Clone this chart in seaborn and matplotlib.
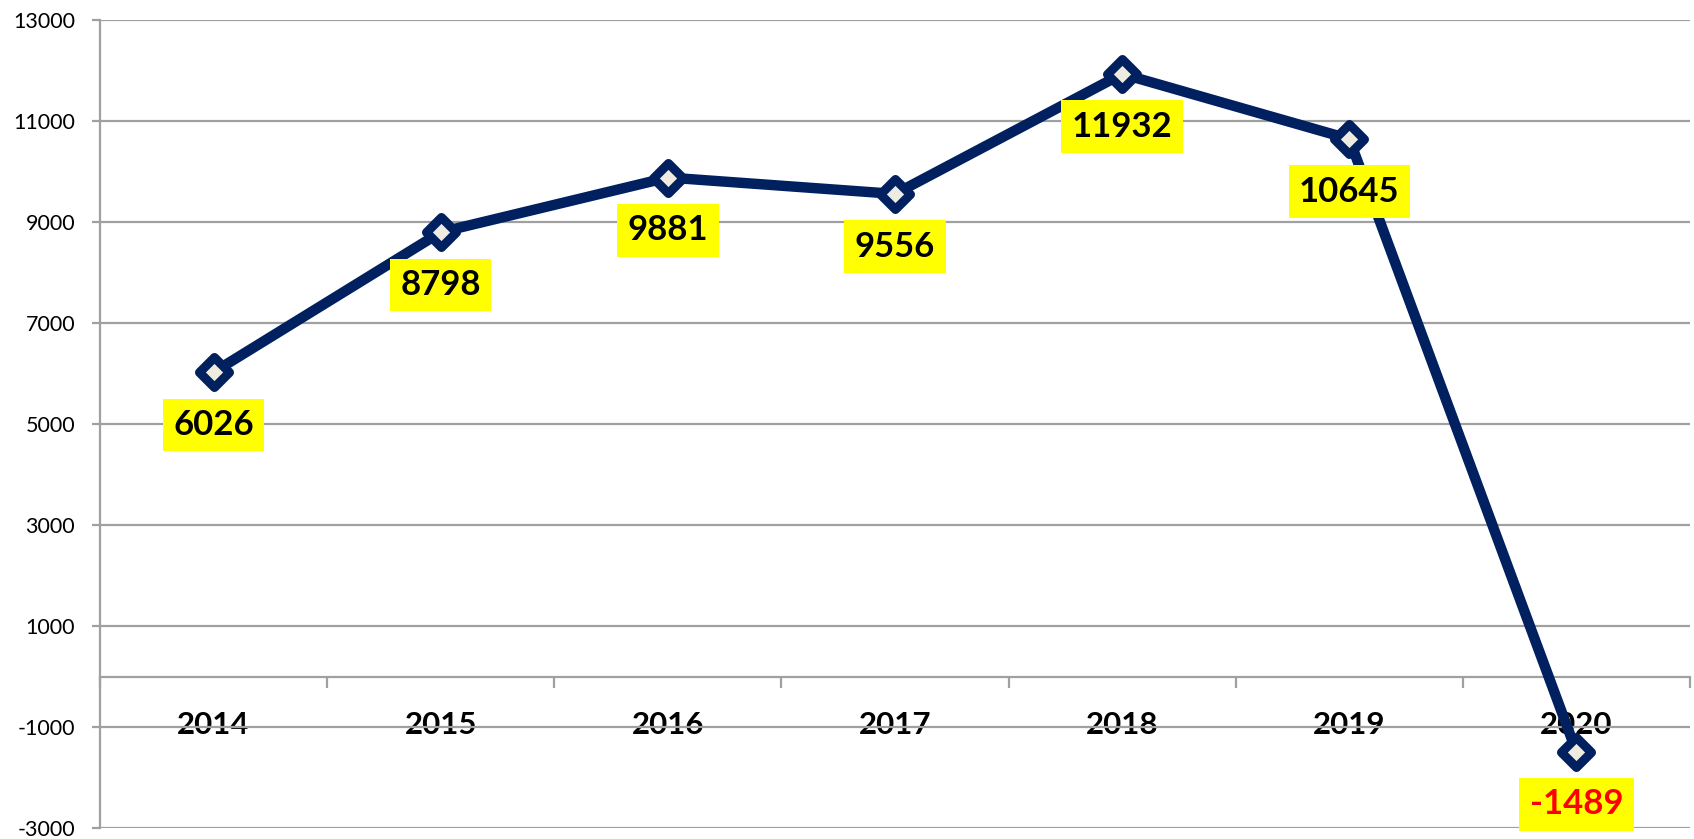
import numpy as np
import pandas as pd
import matplotlib
matplotlib.use("Agg")
import matplotlib.pyplot as plt
from matplotlib.markers import MarkerStyle
import seaborn as sns

years = ["2014", "2015", "2016", "2017", "2018", "2019", "2020"]
values = [6026, 8798, 9881, 9556, 11932, 10645, -1489]
yticks = [-3000, -1000, 1000, 3000, 5000, 7000, 9000, 11000, 13000]

sns.set_style("white")
plt.rcParams['font.family'] = ['Lato', 'DejaVu Sans']
plt.rcParams['text.color'] = 'black'

fig = plt.figure(figsize=(16.94, 8.39), dpi=100)
ax = fig.add_axes([100/1694, 1 - 828/839, 1590/1694, 808/839])

df = pd.DataFrame({"pos": np.arange(len(years)), "value": values})
navy = "#002060"
grid_c = "#a0a0a0"

sns.lineplot(data=df, x="pos", y="value", ax=ax, color=navy, linewidth=7.5,
             marker=MarkerStyle("D", joinstyle="round"), markersize=15,
             markerfacecolor="#eeece1", markeredgecolor=navy, markeredgewidth=6.5,
             solid_joinstyle="round", solid_capstyle="round", zorder=5)

ax.set_xlim(-0.5, len(years) - 0.5)
ax.set_ylim(-3000, 13000)
ax.set_yticks(yticks)
ax.set_yticklabels([str(v) for v in yticks], fontsize=15.5)
for y in yticks:
    ax.axhline(y, color=grid_c, linewidth=1.6, zorder=1)

ax.spines['top'].set_visible(False)
ax.spines['right'].set_visible(False)
ax.spines['left'].set_color(grid_c)
ax.spines['left'].set_linewidth(1.6)
ax.spines['bottom'].set_position(('data', 0))
ax.spines['bottom'].set_color(grid_c)
ax.spines['bottom'].set_linewidth(1.6)

ax.tick_params(axis='y', which='major', left=True, length=6, width=1.6,
               color=grid_c, pad=12, labelcolor='black')
ax.set_xticks(np.arange(len(years)))
ax.set_xticklabels(years, fontsize=22.5, fontweight='bold')
ax.tick_params(axis='x', which='major', length=0, pad=25, labelcolor='black')
ax.set_xticks(np.arange(-0.5, len(years), 1.0), minor=True)
ax.tick_params(axis='x', which='minor', bottom=True, length=8, width=1.6,
               color=grid_c, direction='out')
ax.set_xlabel("")
ax.set_ylabel("")

for i, v in enumerate(values):
    col = "#ff0000" if v < 0 else "black"
    ax.annotate(str(v), xy=(i, v), xytext=(0, -38), textcoords="offset points",
                ha="center", va="center", fontsize=25, fontweight="bold", color=col,
                bbox=dict(boxstyle="square,pad=0.3", fc="#ffff00", ec="none"),
                zorder=6, annotation_clip=False)

fig.savefig("out.png", dpi=100)
